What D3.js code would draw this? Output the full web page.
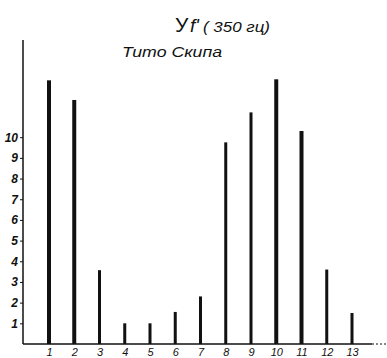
<!DOCTYPE html>
<html lang="ru">
<head>
<meta charset="UTF-8">
<title>Тито Скипа</title>
<script src="https://d3js.org/d3.v7.min.js"></script>
<style>
  body { margin: 0; background: #fff; }
  svg { font-family: "Liberation Sans", sans-serif; }
  .ylab text { font-style: italic; font-weight: bold; font-size: 12px; }
  .xlab text { font-style: italic; font-size: 11px; }
</style>
</head>
<body>
<svg id="chart" width="387" height="358"></svg>
<script>
const categories = ["1","2","3","4","5","6","7","8","9","10","11","12","13"];
const values = [12.75, 11.8, 3.57, 1.0, 1.0, 1.55, 2.3, 9.75, 11.2, 12.8, 10.3, 3.6, 1.5];
const yTicks = [1,2,3,4,5,6,7,8,9,10];
const barWidths = [4, 4, 3, 3, 3, 3, 3, 3, 3, 4, 4, 3, 3];

const svg = d3.select("#chart");
const ink = "#111";
const base = 344, axisX = 23;

const x = d3.scalePoint().domain(categories).range([49, 352]);
const y = d3.scaleLinear().domain([0, 14.7]).range([base, 40]);

// title
svg.append("text")
  .attr("x", 175).attr("y", 32)
  .attr("fill", ink)
  .style("font-size", "21px")
  .text("У");
svg.append("text")
  .attr("x", 190).attr("y", 32)
  .attr("fill", ink)
  .style("font-size", "19px").style("font-style", "italic")
  .text("f'");
svg.append("text")
  .attr("x", 203).attr("y", 32)
  .attr("fill", ink)
  .attr("textLength", 67).attr("lengthAdjust", "spacingAndGlyphs")
  .style("font-size", "14px").style("font-style", "italic")
  .text("( 350 гц)");
svg.append("text")
  .attr("x", 122).attr("y", 57)
  .attr("fill", ink)
  .attr("textLength", 100).attr("lengthAdjust", "spacingAndGlyphs")
  .style("font-size", "14px").style("font-style", "italic")
  .text("Тито Скипа");

// y axis
const yAxis = svg.append("g")
  .attr("class", "ylab")
  .attr("transform", `translate(${axisX},0)`)
  .call(d3.axisLeft(y).tickValues(yTicks).tickSize(3).tickPadding(2).tickFormat(d3.format("d")));
yAxis.select(".domain").remove();
yAxis.selectAll("line").attr("stroke", ink);
yAxis.selectAll("text").attr("fill", ink);

svg.append("line")
  .attr("x1", axisX).attr("x2", axisX)
  .attr("y1", y(0)).attr("y2", y(14.7))
  .attr("stroke", ink).attr("stroke-width", 1.5);

// baseline
svg.append("line")
  .attr("x1", axisX).attr("x2", 372)
  .attr("y1", base).attr("y2", base)
  .attr("stroke", ink).attr("stroke-width", 1.5);
svg.append("line")
  .attr("x1", 372).attr("x2", 387)
  .attr("y1", base).attr("y2", base)
  .attr("stroke", ink).attr("stroke-width", 1)
  .attr("stroke-dasharray", "2,2");

// bars
svg.append("g").selectAll("rect")
  .data(values)
  .enter().append("rect")
  .attr("x", (d, i) => x(categories[i]) - barWidths[i] / 2)
  .attr("y", d => y(d))
  .attr("width", (d, i) => barWidths[i])
  .attr("height", d => y(0) - y(d))
  .attr("fill", ink);

// x labels
const xAxis = svg.append("g")
  .attr("class", "xlab")
  .attr("transform", `translate(0,${base})`)
  .call(d3.axisBottom(x).tickSize(0).tickPadding(4));
xAxis.select(".domain").remove();
xAxis.selectAll("text").attr("fill", ink);
</script>
</body>
</html>
